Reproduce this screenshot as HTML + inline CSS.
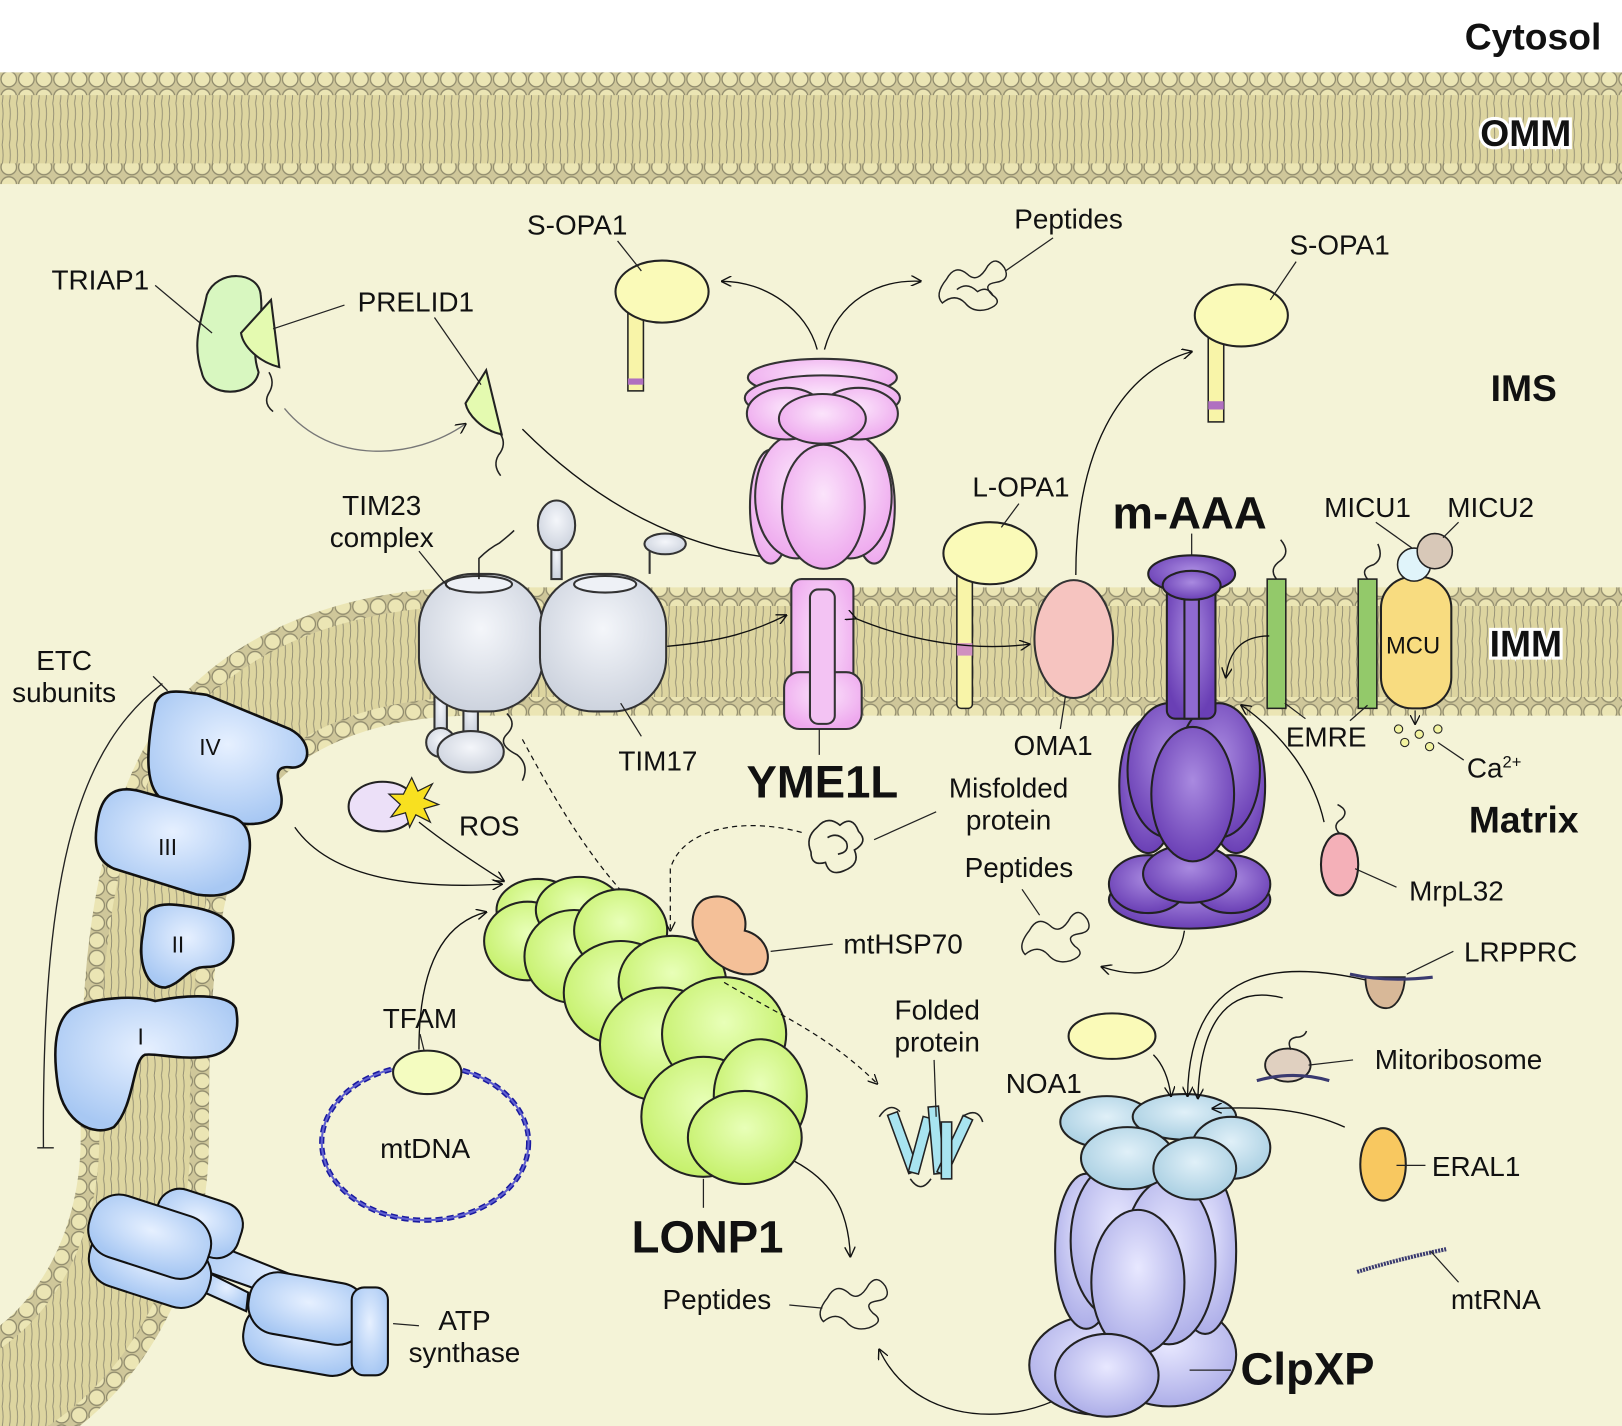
<!DOCTYPE html>
<html><head><meta charset="utf-8"><style>
html,body{margin:0;padding:0;background:#fff}
svg{display:block}
text{font-family:"Liberation Sans",sans-serif;fill:#111}
.b{font-weight:bold}
</style></head><body>
<svg width="1622" height="1426" viewBox="0 0 1568 1379" preserveAspectRatio="none" xmlns="http://www.w3.org/2000/svg">
<defs>
<pattern id="heads" width="17" height="17" patternUnits="userSpaceOnUse">
<rect width="17" height="17" fill="#cfc79a"/>
<circle cx="8.5" cy="8.5" r="7.5" fill="#ebe5b4" stroke="#8f8a6c" stroke-width="1.2"/>
</pattern>
<pattern id="tails" width="7" height="20" patternUnits="userSpaceOnUse">
<rect width="7" height="20" fill="#ddd5a0"/>
<path d="M2,0 Q4,10 2,20" stroke="#8a8670" stroke-width="0.8" fill="none"/>
</pattern>
<marker id="ar" viewBox="0 0 10 10" refX="9" refY="5" markerWidth="8" markerHeight="8" orient="auto"><path d="M0,0 L10,5 L0,10" fill="none" stroke="#111" stroke-width="1.3"/></marker>
<radialGradient id="gp" cx="0.5" cy="0.4" r="0.6"><stop offset="0" stop-color="#fbe4fb"/><stop offset="1" stop-color="#eea9ee"/></radialGradient>
<radialGradient id="gv" cx="0.5" cy="0.4" r="0.6"><stop offset="0" stop-color="#a98ae0"/><stop offset="1" stop-color="#6a3fb5"/></radialGradient>
<radialGradient id="gg" cx="0.5" cy="0.4" r="0.6"><stop offset="0" stop-color="#e8ffb8"/><stop offset="1" stop-color="#c5f06a"/></radialGradient>
<radialGradient id="gb" cx="0.5" cy="0.4" r="0.6"><stop offset="0" stop-color="#e6f0ff"/><stop offset="1" stop-color="#a8c8f3"/></radialGradient>
<radialGradient id="gl" cx="0.5" cy="0.4" r="0.6"><stop offset="0" stop-color="#e8e8ff"/><stop offset="1" stop-color="#adaee8"/></radialGradient>
<radialGradient id="gc" cx="0.5" cy="0.4" r="0.6"><stop offset="0" stop-color="#e0f0f8"/><stop offset="1" stop-color="#a9cfe2"/></radialGradient>
<radialGradient id="gt" cx="0.5" cy="0.4" r="0.6"><stop offset="0" stop-color="#f4f6fa"/><stop offset="1" stop-color="#cdd3de"/></radialGradient>
</defs>
<rect width="1568" height="1379" fill="#f4f3d7"/>
<rect width="1568" height="70" fill="#fff"/>
<!-- OMM -->
<rect x="0" y="70" width="1568" height="108" fill="url(#heads)"/>
<rect x="0" y="92" width="1568" height="66" fill="url(#tails)"/>
<!-- IMM -->
<path id="imm" d="M1580,630 L460,630 C330,630 230,680 190,760 C140,860 140,1000 140,1100 C140,1220 80,1320 -10,1360" fill="none" stroke="url(#heads)" stroke-width="124"/>
<path d="M1580,630 L460,630 C330,630 230,680 190,760 C140,860 140,1000 140,1100 C140,1220 80,1320 -10,1360" fill="none" stroke="url(#tails)" stroke-width="88"/>

<!-- labels big -->
<text x="1548" y="48" text-anchor="end" class="b" font-size="36">Cytosol</text>
<text x="1475" y="141" text-anchor="middle" class="b" font-size="36" stroke="#fff" stroke-width="6" paint-order="stroke">OMM</text>
<text x="1473" y="388" text-anchor="middle" class="b" font-size="36">IMS</text>
<text x="1475" y="635" text-anchor="middle" class="b" font-size="36" stroke="#fff" stroke-width="6" paint-order="stroke">IMM</text>
<text x="1473" y="805" text-anchor="middle" class="b" font-size="36">Matrix</text>

<!-- TRIAP1/PRELID1 -->
<path d="M200,285 C210,260 250,262 252,285 C256,320 240,330 250,360 C245,385 200,385 195,360 C185,330 195,310 200,285Z" fill="#d8f7c0" stroke="#222" stroke-width="2"/>
<path d="M262,290 L270,355 C250,350 235,335 233,322Z" fill="#e4fab0" stroke="#222" stroke-width="2"/>
<path d="M260,360 q6,10 0,20 q-6,10 4,18" fill="none" stroke="#222" stroke-width="1.5"/>
<path d="M470,358 L485,420 C465,416 452,400 450,390Z" fill="#e4fab0" stroke="#222" stroke-width="2"/>
<path d="M484,420 q6,10 -2,20 q-6,10 2,20" fill="none" stroke="#222" stroke-width="1.5"/>
<path d="M275,395 C320,450 400,445 450,410" fill="none" stroke="#777" stroke-width="1.3" marker-end="url(#ar)"/>
<line x1="150" y1="276" x2="205" y2="322" stroke="#222" stroke-width="1.2"/>
<line x1="333" y1="295" x2="264" y2="318" stroke="#222" stroke-width="1.2"/>
<line x1="420" y1="307" x2="465" y2="372" stroke="#222" stroke-width="1.2"/>
<text x="97" y="280" text-anchor="middle" font-size="27">TRIAP1</text>
<text x="402" y="301" text-anchor="middle" font-size="27">PRELID1</text>
<path d="M505,415 C580,490 660,530 750,540" fill="none" stroke="#111" stroke-width="1.3" marker-end="url(#ar)"/>

<!-- S-OPA1 left -->
<rect x="607" y="298" width="15" height="80" fill="#f8f4a8" stroke="#222" stroke-width="1.5"/>
<rect x="607" y="366" width="15" height="6" fill="#b070c0"/>
<ellipse cx="640" cy="282" rx="45" ry="30" fill="#fafab8" stroke="#222" stroke-width="2"/>
<text x="558" y="227" text-anchor="middle" font-size="27">S-OPA1</text>
<line x1="597" y1="233" x2="620" y2="262" stroke="#222" stroke-width="1.2"/>
<!-- peptides top -->
<g fill="none" stroke="#222" stroke-width="1.4">
<path d="M915,270 q8,-15 20,-5 q10,10 20,-8 q8,-10 16,2 q6,12 -8,14 q-14,2 -4,12 q12,8 -4,14 q-14,4 -22,-6 q-10,-10 -22,0 q-8,-8 4,-23z"/>
<path d="M925,280 q10,-8 20,2 q10,-6 15,4"/>
</g>
<text x="1033" y="221" text-anchor="middle" font-size="27">Peptides</text>
<line x1="1018" y1="230" x2="972" y2="262" stroke="#222" stroke-width="1.2"/>
<path d="M790,338 C780,300 740,272 698,272" fill="none" stroke="#111" stroke-width="1.3" marker-end="url(#ar)"/>
<path d="M797,338 C810,290 850,270 890,272" fill="none" stroke="#111" stroke-width="1.3" marker-end="url(#ar)"/>

<!-- S-OPA1 right -->
<rect x="1168" y="320" width="15" height="88" fill="#f8f4a8" stroke="#222" stroke-width="1.5"/>
<rect x="1168" y="388" width="15" height="8" fill="#b070c0"/>
<ellipse cx="1200" cy="305" rx="45" ry="30" fill="#fafab8" stroke="#222" stroke-width="2"/>
<text x="1295" y="246" text-anchor="middle" font-size="27">S-OPA1</text>
<line x1="1253" y1="253" x2="1228" y2="290" stroke="#222" stroke-width="1.2"/>
<path d="M1040,556 C1040,440 1080,360 1152,340" fill="none" stroke="#111" stroke-width="1.3" marker-end="url(#ar)"/>

<!-- YME1L -->
<g stroke="#333" stroke-width="2">
<rect x="765" y="560" width="60" height="140" rx="10" fill="url(#gp)"/>
<rect x="758" y="650" width="75" height="55" rx="15" fill="url(#gp)"/>
<rect x="783" y="570" width="24" height="130" rx="8" fill="#f3c3f3"/>
<ellipse cx="745" cy="490" rx="20" ry="55" fill="url(#gp)"/>
<ellipse cx="845" cy="490" rx="20" ry="55" fill="url(#gp)"/>
<ellipse cx="770" cy="480" rx="40" ry="60" fill="url(#gp)"/>
<ellipse cx="822" cy="480" rx="40" ry="60" fill="url(#gp)"/>
<ellipse cx="796" cy="490" rx="40" ry="60" fill="url(#gp)"/>
<ellipse cx="795" cy="365" rx="72" ry="18" fill="url(#gp)"/>
<ellipse cx="795" cy="385" rx="75" ry="22" fill="url(#gp)"/>
<ellipse cx="760" cy="400" rx="38" ry="25" fill="url(#gp)"/>
<ellipse cx="830" cy="400" rx="38" ry="25" fill="url(#gp)"/>
<ellipse cx="795" cy="405" rx="42" ry="24" fill="url(#gp)"/>
</g>
<text x="795" y="771" text-anchor="middle" class="b" font-size="44">YME1L</text>
<line x1="792" y1="705" x2="792" y2="730" stroke="#222" stroke-width="1.2"/>

<!-- TIM23 -->
<g stroke="#333" stroke-width="2" fill="url(#gt)">
<rect x="420" y="660" width="12" height="55" />
<circle cx="426" cy="718" r="14"/>
<rect x="448" y="670" width="14" height="40"/>
<ellipse cx="455" cy="727" rx="32" ry="20"/>
<rect x="405" y="555" width="120" height="133" rx="52"/>
<rect x="522" y="555" width="122" height="133" rx="52"/>
<ellipse cx="463" cy="565" rx="32" ry="8" fill="#eef1f6"/>
<ellipse cx="585" cy="565" rx="30" ry="8" fill="#eef1f6"/>
<rect x="533" y="520" width="10" height="40"/>
<ellipse cx="538" cy="508" rx="18" ry="24"/>
<path d="M628,555 L628,532 L650,532" fill="none"/>
<ellipse cx="643" cy="526" rx="20" ry="10"/>
</g>
<path d="M463,560 L463,540 q10,-10 20,-15 q10,-8 14,-12" fill="none" stroke="#222" stroke-width="1.5"/>
<path d="M490,690 q10,10 0,20 q-10,10 10,20 q12,10 5,25" fill="none" stroke="#222" stroke-width="1.5"/>
<text x="369" y="498" text-anchor="middle" font-size="27">TIM23</text>
<text x="369" y="529" text-anchor="middle" font-size="27">complex</text>
<line x1="405" y1="533" x2="435" y2="570" stroke="#222" stroke-width="1.2"/>
<text x="636" y="745" text-anchor="middle" font-size="27">TIM17</text>
<line x1="600" y1="680" x2="620" y2="712" stroke="#222" stroke-width="1.2"/>
<path d="M645,625 C700,620 730,610 760,595" fill="none" stroke="#111" stroke-width="1.3" marker-end="url(#ar)"/>
<path d="M505,715 C540,780 580,850 640,900" fill="none" stroke="#111" stroke-width="1.2" stroke-dasharray="5,4" marker-end="url(#ar)"/>

<!-- L-OPA1 -->
<rect x="925" y="550" width="15" height="135" rx="4" fill="#f8f4a8" stroke="#222" stroke-width="1.5"/>
<rect x="925" y="622" width="15" height="12" fill="#d090c0"/>
<ellipse cx="957" cy="535" rx="45" ry="30" fill="#fafab8" stroke="#222" stroke-width="2"/>
<text x="987" y="480" text-anchor="middle" font-size="27">L-OPA1</text>
<line x1="985" y1="487" x2="968" y2="510" stroke="#222" stroke-width="1.2"/>
<path d="M827,598 C880,620 940,630 995,623" fill="none" stroke="#111" stroke-width="1.3" marker-start="url(#ar)" marker-end="url(#ar)"/>

<!-- OMA1 -->
<ellipse cx="1038" cy="618" rx="38" ry="57" fill="#f6c4c0" stroke="#333" stroke-width="2"/>
<text x="1018" y="730" text-anchor="middle" font-size="27">OMA1</text>
<line x1="1025" y1="705" x2="1030" y2="673" stroke="#222" stroke-width="1.2"/>

<!-- m-AAA -->
<g stroke="#222" stroke-width="2">
<ellipse cx="1150" cy="870" rx="78" ry="28" fill="url(#gv)"/>
<ellipse cx="1110" cy="855" rx="38" ry="28" fill="url(#gv)"/>
<ellipse cx="1190" cy="855" rx="38" ry="28" fill="url(#gv)"/>
<ellipse cx="1150" cy="845" rx="45" ry="28" fill="url(#gv)"/>
<ellipse cx="1110" cy="760" rx="28" ry="65" fill="url(#gv)"/>
<ellipse cx="1195" cy="760" rx="28" ry="65" fill="url(#gv)"/>
<ellipse cx="1130" cy="745" rx="40" ry="65" fill="url(#gv)"/>
<ellipse cx="1178" cy="745" rx="40" ry="65" fill="url(#gv)"/>
<ellipse cx="1153" cy="768" rx="40" ry="65" fill="url(#gv)"/>
<rect x="1128" y="560" width="47" height="135" rx="8" fill="url(#gv)"/>
<rect x="1145" y="565" width="14" height="130" fill="#8f6ad0"/>
<ellipse cx="1152" cy="555" rx="42" ry="18" fill="url(#gv)"/>
<ellipse cx="1152" cy="566" rx="28" ry="14" fill="url(#gv)"/>
</g>
<text x="1150" y="511" text-anchor="middle" class="b" font-size="44">m-AAA</text>
<line x1="1152" y1="516" x2="1152" y2="537" stroke="#222" stroke-width="1.2"/>
<path d="M1145,900 C1140,935 1110,950 1065,935" fill="none" stroke="#111" stroke-width="1.3" marker-end="url(#ar)"/>

<!-- EMRE / MCU -->
<rect x="1225" y="560" width="18" height="125" fill="#93c96a" stroke="#222" stroke-width="1.5"/>
<rect x="1313" y="560" width="18" height="125" fill="#93c96a" stroke="#222" stroke-width="1.5"/>
<path d="M1234,560 q-8,-10 4,-18 q10,-8 0,-20" fill="none" stroke="#222" stroke-width="1.5"/>
<path d="M1322,560 q-8,-10 6,-14 q10,-6 4,-20" fill="none" stroke="#222" stroke-width="1.5"/>
<rect x="1335" y="558" width="68" height="127" rx="30" fill="#f8dc80" stroke="#222" stroke-width="2"/>
<circle cx="1367" cy="546" r="16" fill="#e0f4fa" stroke="#222" stroke-width="1.5"/>
<circle cx="1387" cy="533" r="17" fill="#d8c8b8" stroke="#222" stroke-width="1.5"/>
<text x="1366" y="632" text-anchor="middle" font-size="23">MCU</text>
<text x="1322" y="500" text-anchor="middle" font-size="27">MICU1</text>
<text x="1441" y="500" text-anchor="middle" font-size="27">MICU2</text>
<line x1="1330" y1="505" x2="1365" y2="530" stroke="#222" stroke-width="1.2"/>
<line x1="1410" y1="505" x2="1395" y2="520" stroke="#222" stroke-width="1.2"/>
<text x="1282" y="722" text-anchor="middle" font-size="27">EMRE</text>
<line x1="1242" y1="680" x2="1262" y2="695" stroke="#222" stroke-width="1.2"/>
<line x1="1322" y1="682" x2="1305" y2="697" stroke="#222" stroke-width="1.2"/>
<path d="M1227,615 C1200,615 1188,630 1185,655" fill="none" stroke="#111" stroke-width="1.3" marker-end="url(#ar)"/>
<line x1="1368" y1="687" x2="1368" y2="700" stroke="#222" stroke-width="1.2" marker-end="url(#ar)"/>
<g fill="#f3f4a0" stroke="#222" stroke-width="1"><circle cx="1352" cy="705" r="4"/><circle cx="1372" cy="710" r="4"/><circle cx="1390" cy="705" r="4"/><circle cx="1358" cy="718" r="4"/><circle cx="1382" cy="722" r="4"/></g>
<text x="1418" y="752" font-size="27">Ca<tspan font-size="16" dy="-10">2+</tspan></text>
<line x1="1390" y1="718" x2="1415" y2="735" stroke="#222" stroke-width="1.2"/>

<!-- MrpL32 -->
<ellipse cx="1295" cy="836" rx="18" ry="30" fill="#f4b0b8" stroke="#222" stroke-width="2"/>
<path d="M1295,806 q-8,-8 2,-14 q8,-8 -4,-14" fill="none" stroke="#222" stroke-width="1.5"/>
<path d="M1280,795 C1270,750 1240,710 1200,682" fill="none" stroke="#111" stroke-width="1.3" marker-end="url(#ar)"/>
<text x="1408" y="871" text-anchor="middle" font-size="27">MrpL32</text>
<line x1="1350" y1="858" x2="1310" y2="840" stroke="#222" stroke-width="1.2"/>

<!-- ETC -->
<g stroke="#111" stroke-width="2.5" fill="url(#gb)">
<path d="M150,680 C158,665 170,668 200,672 L280,705 C305,718 300,745 280,742 C262,740 270,758 272,770 C275,795 250,800 225,795 L160,775 C140,765 140,730 150,680Z"/>
<path d="M95,790 C100,765 115,760 135,765 L225,790 C245,798 245,820 235,850 C228,865 210,868 190,865 L110,840 C92,832 90,815 95,790Z"/>
<path d="M140,890 C140,880 150,873 170,875 C200,878 220,885 225,900 C228,920 220,935 200,935 C180,935 178,950 160,955 C140,955 135,930 137,910Z"/>
<path d="M70,975 C90,965 130,962 150,968 C180,962 220,960 228,975 C232,995 228,1018 200,1022 C170,1025 150,1018 140,1020 C128,1025 130,1070 110,1090 C90,1100 62,1085 56,1050 C50,1010 55,985 70,975Z"/>
</g>
<text x="203" y="730" text-anchor="middle" font-size="22">IV</text>
<text x="162" y="827" text-anchor="middle" font-size="22">III</text>
<text x="172" y="921" text-anchor="middle" font-size="22">II</text>
<text x="136" y="1010" text-anchor="middle" font-size="22">I</text>
<path d="M157,661 C80,720 40,830 42,1110" fill="none" stroke="#222" stroke-width="1.3"/>
<line x1="148" y1="654" x2="162" y2="668" stroke="#222" stroke-width="1.3"/>
<line x1="36" y1="1110" x2="52" y2="1110" stroke="#222" stroke-width="1.3"/>
<text x="62" y="648" text-anchor="middle" font-size="27">ETC</text>
<text x="62" y="679" text-anchor="middle" font-size="27">subunits</text>
<path d="M285,800 C320,850 400,860 485,855" fill="none" stroke="#111" stroke-width="1.3" marker-end="url(#ar)"/>

<!-- ATP synthase -->
<g stroke="#111" stroke-width="2" fill="url(#gb)">
<path d="M200,1200 L300,1240 L330,1245 L360,1250 L355,1275 L300,1265 L195,1228Z"/>
<path d="M200,1230 L240,1250 L238,1268 L198,1250Z"/>
<rect x="150" y="1155" width="85" height="55" rx="22" transform="rotate(18 190 1180)"/>
<rect x="85" y="1195" width="120" height="60" rx="28" transform="rotate(18 145 1225)"/>
<rect x="85" y="1165" width="120" height="62" rx="28" transform="rotate(18 145 1195)"/>
<rect x="235" y="1265" width="115" height="60" rx="28" transform="rotate(10 290 1295)"/>
<rect x="240" y="1235" width="115" height="60" rx="28" transform="rotate(10 295 1265)"/>
<rect x="340" y="1245" width="35" height="85" rx="12"/>
</g>
<text x="449" y="1286" text-anchor="middle" font-size="27">ATP</text>
<text x="449" y="1317" text-anchor="middle" font-size="27">synthase</text>
<line x1="380" y1="1280" x2="405" y2="1282" stroke="#222" stroke-width="1.2"/>

<!-- ROS -->
<ellipse cx="370" cy="780" rx="33" ry="24" fill="#ece0f8" stroke="#222" stroke-width="2"/>
<polygon points="398,752 404,765 418,758 410,772 424,778 410,782 416,795 402,788 396,800 392,786 378,790 387,778 376,768 390,768" fill="#f8e020" stroke="#222" stroke-width="1.2"/>
<text x="473" y="808" text-anchor="middle" font-size="27">ROS</text>
<path d="M405,795 C430,815 460,835 487,852" fill="none" stroke="#111" stroke-width="1.3" marker-end="url(#ar)"/>

<!-- LONP1 -->
<g stroke="#222" stroke-width="2" fill="url(#gg)">
<ellipse cx="520" cy="880" rx="40" ry="30"/>
<ellipse cx="510" cy="910" rx="42" ry="38"/>
<ellipse cx="560" cy="880" rx="42" ry="32"/>
<ellipse cx="555" cy="925" rx="48" ry="45"/>
<ellipse cx="600" cy="900" rx="45" ry="40"/>
<ellipse cx="600" cy="960" rx="55" ry="50"/>
<ellipse cx="650" cy="950" rx="52" ry="45"/>
<ellipse cx="640" cy="1010" rx="60" ry="55"/>
<ellipse cx="700" cy="1000" rx="60" ry="55"/>
<ellipse cx="680" cy="1080" rx="60" ry="58"/>
<ellipse cx="735" cy="1060" rx="45" ry="55"/>
<ellipse cx="720" cy="1100" rx="55" ry="45"/>
</g>
<text x="684" y="1211" text-anchor="middle" class="b" font-size="44">LONP1</text>
<line x1="680" y1="1140" x2="680" y2="1168" stroke="#222" stroke-width="1.2"/>
<path d="M405,1015 C405,950 420,895 470,882" fill="none" stroke="#111" stroke-width="1.3" marker-end="url(#ar)"/>
<path d="M768,1123 C800,1140 820,1165 822,1215" fill="none" stroke="#111" stroke-width="1.3" marker-end="url(#ar)"/>
<path d="M700,950 C750,980 800,1000 848,1048" fill="none" stroke="#111" stroke-width="1.2" stroke-dasharray="5,4" marker-end="url(#ar)"/>
<path d="M775,805 C720,790 660,800 648,840 L648,900" fill="none" stroke="#111" stroke-width="1.2" stroke-dasharray="5,4" marker-end="url(#ar)"/>

<!-- TFAM / mtDNA -->
<ellipse cx="411" cy="1105" rx="100" ry="75" fill="none" stroke="#1a1aa0" stroke-width="5" stroke-dasharray="7,4"/>
<ellipse cx="411" cy="1105" rx="100" ry="75" fill="none" stroke="#6060d0" stroke-width="2"/>
<ellipse cx="413" cy="1037" rx="33" ry="21" fill="#f4fcc0" stroke="#222" stroke-width="2"/>
<text x="406" y="994" text-anchor="middle" font-size="27">TFAM</text>
<line x1="406" y1="1000" x2="410" y2="1016" stroke="#222" stroke-width="1.2"/>
<text x="411" y="1120" text-anchor="middle" font-size="27">mtDNA</text>

<!-- misfolded -->
<g fill="none" stroke="#222" stroke-width="1.6">
<path d="M790,800 q10,-12 22,-2 q12,-10 18,6 q10,10 -4,18 q6,14 -10,20 q-14,6 -18,-8 q-14,4 -14,-10 q-6,-14 6,-24z"/>
<path d="M800,810 q10,-6 18,4 q4,10 -8,12"/>
</g>
<text x="975" y="771" text-anchor="middle" font-size="27">Misfolded</text>
<text x="975" y="802" text-anchor="middle" font-size="27">protein</text>
<line x1="905" y1="785" x2="845" y2="812" stroke="#222" stroke-width="1.2"/>
<!-- mtHSP70 -->
<path d="M680,870 C700,860 725,875 720,900 C740,905 748,925 738,938 C720,950 690,935 678,915 C665,898 668,878 680,870Z" fill="#f4c098" stroke="#222" stroke-width="2"/>
<text x="873" y="922" text-anchor="middle" font-size="27">mtHSP70</text>
<line x1="805" y1="913" x2="745" y2="920" stroke="#222" stroke-width="1.2"/>
<!-- peptides mid -->
<g fill="none" stroke="#222" stroke-width="1.4">
<path d="M995,900 q8,-15 20,-5 q10,10 20,-8 q8,-10 16,2 q6,12 -8,14 q-14,2 -4,12 q12,8 -4,14 q-14,4 -22,-6 q-10,-10 -22,0 q-8,-8 4,-23z"/>
</g>
<text x="985" y="848" text-anchor="middle" font-size="27">Peptides</text>
<line x1="988" y1="860" x2="1005" y2="885" stroke="#222" stroke-width="1.2"/>
<!-- folded -->
<g stroke="#222" stroke-width="1.5" fill="#a8e4f0">
<rect x="868" y="1075" width="10" height="60" transform="rotate(-20 873 1105)"/>
<rect x="885" y="1080" width="10" height="55" transform="rotate(15 890 1108)"/>
<rect x="900" y="1070" width="10" height="65" transform="rotate(-5 905 1102)"/>
<rect x="918" y="1078" width="10" height="60" transform="rotate(25 923 1108)"/>
<rect x="910" y="1085" width="10" height="55"/>
</g>
<path d="M850,1080 q10,-15 20,-5 M930,1080 q15,-10 20,5 M880,1140 q10,15 20,0" fill="none" stroke="#222" stroke-width="1.5"/>
<text x="906" y="986" text-anchor="middle" font-size="27">Folded</text>
<text x="906" y="1017" text-anchor="middle" font-size="27">protein</text>
<line x1="903" y1="1025" x2="905" y2="1080" stroke="#222" stroke-width="1.2"/>
<!-- peptides bottom -->
<g fill="none" stroke="#222" stroke-width="1.4">
<path d="M800,1255 q8,-15 20,-5 q10,10 20,-8 q8,-10 16,2 q6,12 -8,14 q-14,2 -4,12 q12,8 -4,14 q-14,4 -22,-6 q-10,-10 -22,0 q-8,-8 4,-23z"/>
</g>
<text x="693" y="1266" text-anchor="middle" font-size="27">Peptides</text>
<line x1="763" y1="1262" x2="795" y2="1265" stroke="#222" stroke-width="1.2"/>
<path d="M1018,1355 C960,1380 880,1370 850,1305" fill="none" stroke="#111" stroke-width="1.3" marker-end="url(#ar)"/>

<!-- ClpXP -->
<g stroke="#222" stroke-width="2">
<ellipse cx="1060" cy="1320" rx="65" ry="48" fill="url(#gl)"/>
<ellipse cx="1130" cy="1310" rx="65" ry="50" fill="url(#gl)"/>
<ellipse cx="1050" cy="1210" rx="30" ry="75" fill="url(#gl)"/>
<ellipse cx="1165" cy="1210" rx="30" ry="80" fill="url(#gl)"/>
<ellipse cx="1080" cy="1200" rx="45" ry="75" fill="url(#gl)"/>
<ellipse cx="1130" cy="1220" rx="45" ry="80" fill="url(#gl)"/>
<ellipse cx="1100" cy="1240" rx="45" ry="70" fill="url(#gl)"/>
<ellipse cx="1070" cy="1330" rx="50" ry="40" fill="url(#gl)"/>
<ellipse cx="1070" cy="1085" rx="45" ry="25" fill="url(#gc)"/>
<ellipse cx="1145" cy="1080" rx="50" ry="22" fill="url(#gc)"/>
<ellipse cx="1190" cy="1110" rx="38" ry="30" fill="url(#gc)"/>
<ellipse cx="1090" cy="1120" rx="45" ry="30" fill="url(#gc)"/>
<ellipse cx="1155" cy="1130" rx="40" ry="30" fill="url(#gc)"/>
</g>
<text x="1264" y="1339" text-anchor="middle" class="b" font-size="44">ClpXP</text>
<line x1="1150" y1="1325" x2="1190" y2="1325" stroke="#222" stroke-width="1.2"/>

<!-- NOA1 etc -->
<ellipse cx="1075" cy="1002" rx="42" ry="22" fill="#fafab8" stroke="#222" stroke-width="2"/>
<text x="1009" y="1057" text-anchor="middle" font-size="27">NOA1</text>
<path d="M1115,1020 C1125,1030 1130,1045 1132,1060" fill="none" stroke="#111" stroke-width="1.3" marker-end="url(#ar)"/>
<path d="M1330,950 C1250,930 1150,925 1148,1060" fill="none" stroke="#111" stroke-width="1.3" marker-end="url(#ar)"/>
<path d="M1240,965 C1180,950 1160,1000 1158,1062" fill="none" stroke="#111" stroke-width="1.3" marker-end="url(#ar)"/>
<path d="M1300,1090 C1260,1072 1220,1070 1172,1072" fill="none" stroke="#111" stroke-width="1.3" marker-end="url(#ar)"/>
<path d="M1320,945 C1320,965 1330,975 1340,975 C1350,975 1358,960 1358,945Z" fill="#d8b898" stroke="#222" stroke-width="1.8"/>
<path d="M1305,942 Q1340,950 1385,945" fill="none" stroke="#3a3a70" stroke-width="3"/>
<text x="1470" y="930" text-anchor="middle" font-size="27">LRPPRC</text>
<line x1="1405" y1="920" x2="1360" y2="942" stroke="#222" stroke-width="1.2"/>
<ellipse cx="1245" cy="1030" rx="22" ry="16" fill="#e0d0c0" stroke="#222" stroke-width="1.8"/>
<path d="M1215,1045 Q1250,1035 1285,1045" fill="none" stroke="#3a3a70" stroke-width="3"/>
<path d="M1248,1015 q-5,-10 5,-12 q8,0 10,-6" fill="none" stroke="#222" stroke-width="1.5"/>
<text x="1410" y="1034" text-anchor="middle" font-size="27">Mitoribosome</text>
<line x1="1308" y1="1025" x2="1265" y2="1030" stroke="#222" stroke-width="1.2"/>
<ellipse cx="1337" cy="1126" rx="22" ry="35" fill="#f8c860" stroke="#222" stroke-width="2"/>
<text x="1427" y="1137" text-anchor="middle" font-size="27">ERAL1</text>
<line x1="1350" y1="1127" x2="1378" y2="1127" stroke="#222" stroke-width="1.2"/>
<path d="M1312,1230 Q1350,1218 1398,1208" fill="none" stroke="#3a3a70" stroke-width="4" stroke-dasharray="2,1"/>
<text x="1446" y="1266" text-anchor="middle" font-size="27">mtRNA</text>
<line x1="1383" y1="1210" x2="1410" y2="1240" stroke="#222" stroke-width="1.2"/>
</svg>
</body></html>
